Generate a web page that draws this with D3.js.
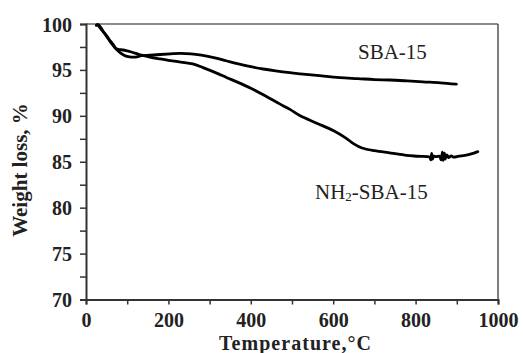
<!DOCTYPE html>
<html><head><meta charset="utf-8">
<script src="https://cdn.jsdelivr.net/npm/d3@7"></script>
<style>
html,body{margin:0;padding:0;background:#fff;}
svg{display:block;}
text{font-family:"Liberation Serif","Times New Roman",serif;}
</style></head>
<body>
<svg id="chart" width="523" height="353"></svg>
<script>
// ---- data ----
const sbaTemp = [25, 30, 36, 43, 51, 60, 67, 73, 85, 97, 110, 121, 135, 155, 180, 205, 230, 255, 280, 310, 340, 370, 400, 430, 460, 495, 520, 560, 616, 660, 700, 737, 780, 818, 860, 899];
const sbaWeight = [99.85, 99.9, 99.6, 99.1, 98.6, 98.0, 97.6, 97.3, 96.8, 96.5, 96.4, 96.4, 96.55, 96.6, 96.68, 96.75, 96.8, 96.75, 96.6, 96.35, 96.0, 95.65, 95.35, 95.1, 94.9, 94.7, 94.58, 94.4, 94.15, 94.05, 93.95, 93.9, 93.8, 93.7, 93.6, 93.45];

const nh2Temp = [28, 32, 38, 45, 51, 60, 67, 73, 85, 97, 110, 121, 135, 155, 180, 200, 230, 259, 284, 320, 342, 366, 400, 438, 470, 495, 520, 560, 600, 630, 650, 670, 700, 740, 778, 805, 834, 837, 839, 841, 844, 850, 858, 862, 865, 867, 870, 872, 876, 880, 886, 892, 905, 920, 935, 951];
const nh2Weight = [99.95, 99.7, 99.35, 99.0, 98.65, 98.1, 97.7, 97.3, 97.2, 97.1, 96.95, 96.8, 96.6, 96.4, 96.2, 96.05, 95.85, 95.65, 95.25, 94.6, 94.15, 93.7, 93.0, 92.1, 91.3, 90.7, 90.0, 89.2, 88.4, 87.6, 86.95, 86.5, 86.2, 85.95, 85.7, 85.6, 85.5, 85.2, 85.9, 85.3, 85.6, 85.55, 85.6, 85.2, 86.05, 85.15, 85.95, 85.3, 85.75, 85.45, 85.65, 85.5, 85.6, 85.7, 85.85, 86.1];

const xTicks = [0, 200, 400, 600, 800, 1000];
const xMinorTicks = [100, 300, 500, 700, 900];
const yTicks = [70, 75, 80, 85, 90, 95, 100];
const yMinorTicks = [72.5, 77.5, 82.5, 87.5, 92.5, 97.5];

// ---- layout ----
const svg = d3.select("#chart");
const x = d3.scaleLinear().domain([0, 1000]).range([86, 498]);
const y = d3.scaleLinear().domain([70, 100]).range([299.5, 24]);

// frame (top and right)
svg.append("line").attr("x1", x(0)).attr("x2", x(1000)).attr("y1", y(100)).attr("y2", y(100))
  .attr("stroke", "#666").attr("stroke-width", 1.5);
svg.append("line").attr("x1", x(1000)).attr("x2", x(1000)).attr("y1", y(100)).attr("y2", y(70))
  .attr("stroke", "#555").attr("stroke-width", 1.5);

// y axis
const yAxis = d3.axisLeft(y).tickValues(yTicks.concat(yMinorTicks)).tickSize(6)
  .tickFormat(d => yTicks.includes(d) ? d3.format("d")(d) : "");
const gy = svg.append("g").attr("transform", `translate(${x(0)},0)`).call(yAxis);
gy.select(".domain").attr("stroke", "#333").attr("stroke-width", 2);
gy.selectAll(".tick line").attr("stroke", "#333").attr("stroke-width", 1.5);
gy.selectAll(".tick text").attr("font-family", "'Liberation Serif','Times New Roman',serif")
  .attr("font-size", 20).attr("font-weight", "bold").attr("fill", "#222").attr("x", -14).attr("dy", "0.35em");

// x axis
const xAxis = d3.axisBottom(x).tickValues(xTicks.concat(xMinorTicks)).tickSize(5)
  .tickFormat(d => xTicks.includes(d) ? d3.format("d")(d) : "");
const gx = svg.append("g").attr("transform", `translate(0,${y(70)})`).call(xAxis);
gx.select(".domain").attr("stroke", "#333").attr("stroke-width", 2);
gx.selectAll(".tick line").attr("stroke", "#333").attr("stroke-width", 1.5);
gx.selectAll(".tick text").attr("font-family", "'Liberation Serif','Times New Roman',serif")
  .attr("font-size", 20).attr("font-weight", "bold").attr("fill", "#222").attr("y", 27).attr("dy", 0);

// axis titles
svg.append("text").attr("x", 295).attr("y", 350).attr("text-anchor", "middle")
  .attr("font-size", 20).attr("font-weight", "bold").attr("fill", "#222")
  .attr("textLength", 152).attr("lengthAdjust", "spacing")
  .text("Temperature,°C");
svg.append("text").attr("transform", "translate(27,170) rotate(-90)").attr("text-anchor", "middle")
  .attr("font-size", 21).attr("font-weight", "bold").attr("fill", "#222")
  .text("Weight loss, %");

// curves
const line = d3.line().x(d => x(d[0])).y(d => y(d[1])).curve(d3.curveCatmullRom.alpha(0.5));
const sba = sbaTemp.map((t, i) => [t, sbaWeight[i]]);
const nh2 = nh2Temp.map((t, i) => [t, nh2Weight[i]]);
svg.append("path").attr("d", line(sba)).attr("fill", "none").attr("stroke", "#000")
  .attr("stroke-width", 2.8).attr("stroke-linejoin", "round").attr("stroke-linecap", "round");
svg.append("path").attr("d", line(nh2)).attr("fill", "none").attr("stroke", "#000")
  .attr("stroke-width", 2.8).attr("stroke-linejoin", "round").attr("stroke-linecap", "round");

// labels
svg.append("text").attr("x", 358).attr("y", 59).attr("font-size", 21).attr("fill", "#222").text("SBA-15");
const lab = svg.append("text").attr("x", 315).attr("y", 199).attr("font-size", 21).attr("fill", "#222");
lab.append("tspan").text("NH");
lab.append("tspan").attr("font-size", 13).attr("dy", 2).text("2");
lab.append("tspan").attr("dy", -2).text("-SBA-15");
</script>
</body></html>
